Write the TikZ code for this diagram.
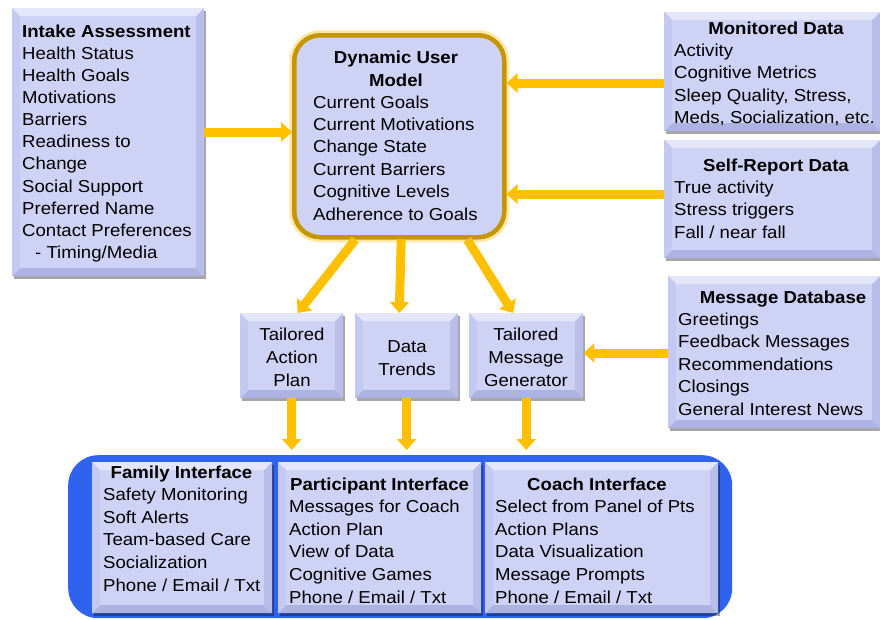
\documentclass[tikz,border=0pt]{standalone}
\usepackage{fontspec}
\setmainfont{Liberation Sans}[FakeStretch=1.075]
\usetikzlibrary{arrows.meta,shadows}
\definecolor{lav}{RGB}{206,211,246}
\definecolor{lavT}{RGB}{228,231,252}
\definecolor{lavL}{RGB}{196,201,241}
\definecolor{lavR}{RGB}{184,190,233}
\definecolor{lavB}{RGB}{172,178,225}
\definecolor{goldA}{RGB}{255,192,0}
\definecolor{goldD}{RGB}{198,150,0}
\definecolor{goldG}{RGB}{255,214,90}
\definecolor{uiblue}{RGB}{47,98,238}
\newcommand\fsz{\fontsize{17.3}{22.4}\selectfont}
\newcommand\fszb{\fontsize{17.3}{22.7}\selectfont}
\def\bw{8pt}
\tikzset{
  bevbox/.style={draw=none, fill=lav, inner sep=0pt, anchor=north west,
    drop shadow={shadow xshift=2pt, shadow yshift=-2.5pt, opacity=.35, fill=black},
    path picture={
      \fill[lavT] (path picture bounding box.north west) -- (path picture bounding box.north east)
        -- ([xshift=-\bw,yshift=-\bw]path picture bounding box.north east)
        -- ([xshift=\bw,yshift=-\bw]path picture bounding box.north west) -- cycle;
      \fill[lavB] (path picture bounding box.south west) -- (path picture bounding box.south east)
        -- ([xshift=-\bw,yshift=\bw]path picture bounding box.south east)
        -- ([xshift=\bw,yshift=\bw]path picture bounding box.south west) -- cycle;
      \fill[lavL] (path picture bounding box.north west) -- (path picture bounding box.south west)
        -- ([xshift=\bw,yshift=\bw]path picture bounding box.south west)
        -- ([xshift=\bw,yshift=-\bw]path picture bounding box.north west) -- cycle;
      \fill[lavR] (path picture bounding box.north east) -- (path picture bounding box.south east)
        -- ([xshift=-\bw,yshift=\bw]path picture bounding box.south east)
        -- ([xshift=-\bw,yshift=-\bw]path picture bounding box.north east) -- cycle;
    }},
  dumbox/.style={fill=lav, draw=goldD, line width=4.5pt, rounded corners=26pt, inner sep=0pt,
    anchor=north west, preaction={draw=goldG, line width=10pt, opacity=.55}},
  uibox/.style={fill=uiblue, draw=none, rounded corners=30pt, inner sep=0pt, anchor=north west},
  garrow/.style={draw=goldA, line width=9pt, -{Triangle[width=19pt,length=11pt]}},
  txt/.style={font=\fsz, align=left, inner sep=0pt, anchor=base west},
  ttl/.style={font=\fsz\bfseries, inner sep=0pt, anchor=base},
  ctr/.style={font={\fontsize{17.3}{23}\selectfont}, align=center, inner sep=0pt, anchor=base}
}
\begin{document}
\begin{tikzpicture}[x=1pt,y=-1pt]
\useasboundingbox (0,0) rectangle (880,619);
% boxes
\node[uibox, minimum width=664pt, minimum height=163pt] (ui) at (68,455) {};
\node[bevbox, minimum width=180pt, minimum height=151pt] (fam) at (92,462) {};
\node[bevbox, minimum width=203pt, minimum height=151pt] (part) at (278,462) {};
\node[bevbox, minimum width=233pt, minimum height=151pt] (coach) at (485,462) {};
\node[bevbox, minimum width=192pt, minimum height=268pt] (intake) at (12,8) {};
\node[dumbox, minimum width=210pt, minimum height=202pt] (dum) at (292,33) {};
\node[bevbox, minimum width=216pt, minimum height=119pt] (mon) at (664,12) {};
\node[bevbox, minimum width=216pt, minimum height=118pt] (self) at (664,140) {};
\node[bevbox, minimum width=212pt, minimum height=152pt] (msg) at (668,276) {};
\node[bevbox, minimum width=103pt, minimum height=85pt] (tap) at (240,313) {};
\node[bevbox, minimum width=103pt, minimum height=85pt] (dt) at (355,313) {};
\node[bevbox, minimum width=114pt, minimum height=85pt] (tmg) at (469,313) {};
% arrows
\draw[garrow] (intake.east |- 0,132) -- (dum.west |- 0,132);
\draw[garrow] (mon.west |- 0,83) -- (dum.east |- 0,83);
\draw[garrow] (self.west |- 0,194) -- (dum.east |- 0,194);
\draw[garrow] (msg.west |- 0,353) -- (tmg.east |- 0,353);
\draw[garrow] ([xshift=-44pt]dum.south) -- ([xshift=6pt]tap.north);
\draw[garrow] ([xshift=2pt]dum.south) -- ([xshift=-7.5pt]dt.north);
\draw[garrow] ([xshift=68pt]dum.south) -- ([xshift=-13pt]tmg.north);
\draw[garrow, shorten >=5pt] (tap.south) -- (tap.south |- ui.north);
\draw[garrow, shorten >=5pt] (dt.south) -- (dt.south |- ui.north);
\draw[garrow, shorten >=5pt] (tmg.south) -- (tmg.south |- ui.north);
% texts (base anchor = baseline of the last line)
\node[txt, font={\fontsize{17.3}{22.15}\selectfont}] (intaket) at (22,258.5)
  {\textbf{Intake Assessment}\\Health Status\\Health Goals\\Motivations\\Barriers\\Readiness to\\Change\\Social Support\\Preferred Name\\Contact Preferences\\\hspace*{13pt}- Timing/Media};
\node[ttl, align=center] (dumt) at (396,86) {Dynamic User\\Model};
\node[txt] (dumb) at (313,220) {Current Goals\\Current Motivations\\Change State\\Current Barriers\\Cognitive Levels\\Adherence to Goals};
\node[ttl] (mont) at (776,34) {Monitored Data};
\node[txt] (monb) at (674,123.6) {Activity\\Cognitive Metrics\\Sleep Quality, Stress,\\Meds, Socialization, etc.};
\node[ttl] (selft) at (776,171) {Self-Report Data};
\node[txt] (selfb) at (674,238.2) {True activity\\Stress triggers\\Fall / near fall};
\node[ttl] (msgt) at (783,303) {Message Database};
\node[txt] (msgb) at (678,415) {Greetings\\Feedback Messages\\Recommendations\\Closings\\General Interest News};
\node[ctr] (tapt) at (292,386) {Tailored\\Action\\Plan};
\node[ctr] (dtt) at (407,375) {Data\\Trends};
\node[ctr] (tmgt) at (526,386) {Tailored\\Message\\Generator};
\node[ttl] (famt) at (181.5,478) {Family Interface};
\node[txt, font=\fszb] (famb) at (103,591.3) {Safety Monitoring\\Soft Alerts\\Team-based Care\\Socialization\\Phone / Email / Txt};
\node[ttl, anchor=base west] (partt) at (290,490) {Participant Interface};
\node[txt, font=\fszb] (partb) at (289,603.3) {Messages for Coach\\Action Plan\\View of Data\\Cognitive Games\\Phone / Email / Txt};
\node[ttl] (coacht) at (597,490) {Coach Interface};
\node[txt, font=\fszb] (coachb) at (495,603.3) {Select from Panel of Pts\\Action Plans\\Data Visualization\\Message Prompts\\Phone / Email / Txt};
\end{tikzpicture}
\end{document}
